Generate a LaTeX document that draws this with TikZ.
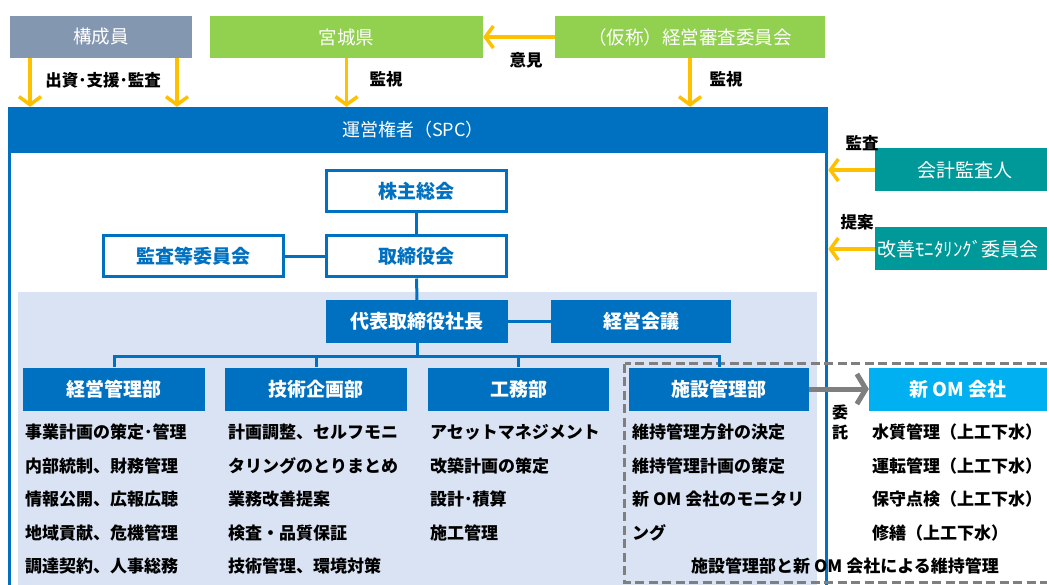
\documentclass[tikz,border=0pt]{standalone}
\usepackage{fontspec}
\setmainfont{Noto Sans CJK JP}
\usetikzlibrary{arrows.meta}
\definecolor{kblue}{HTML}{0070C0}
\definecolor{kgray}{HTML}{8497B0}
\definecolor{kgreen}{HTML}{92D050}
\definecolor{korange}{HTML}{FFC000}
\definecolor{kteal}{HTML}{009999}
\definecolor{klight}{HTML}{DAE3F3}
\definecolor{kcyan}{HTML}{00B0F0}
\definecolor{kdash}{HTML}{7F7F7F}
\begin{document}
\begin{tikzpicture}[x=1pt,y=-1pt,
  topbox/.style={fill=#1, text=white, inner sep=0pt, minimum height=42pt, font=\fontsize{18.5}{18.5}\selectfont},
  wbox/.style={draw=kblue, line width=3pt, fill=white, text=kblue, inner sep=0pt, minimum width=180pt, minimum height=41pt, font=\fontsize{19}{19}\selectfont\bfseries},
  bbox/.style={fill=kblue, text=white, inner sep=0pt, minimum width=182pt, minimum height=43pt, font=\fontsize{19}{19}\selectfont\bfseries},
  tealbox/.style={fill=kteal, text=white, inner sep=0pt, minimum width=180pt, minimum height=43pt, font=\fontsize{19}{19}\selectfont},
  lbl/.style={text=black, inner sep=0pt, font=\fontsize{16.5}{16.5}\selectfont\bfseries},
  lst/.style={text=black, inner sep=0pt, anchor=base west, align=left, font=\fontsize{17}{33.5}\selectfont\bfseries},
  oarrow/.style={draw=korange, line width=3.5pt, -{Straight Barb[length=8pt,width=22pt]}},
  garrow/.style={draw=kdash, line width=5pt, -{Straight Barb[length=9pt,width=30pt]}},
  conn/.style={draw=kblue, line width=3pt}
]
\clip (0,0) rectangle (1047,585);
\fill[white] (0,0) rectangle (1047,585);

% light region and SPC frame
\fill[klight] (18,292) rectangle (817,585);
\draw[kblue, line width=2.5pt] (9.5,130) -- (9.5,600);
\draw[kblue, line width=2.5pt] (826.5,130) -- (826.5,600);
\node[fill=kblue, text=white, inner sep=0pt, minimum width=820pt, minimum height=46pt, font=\fontsize{18}{18}\selectfont] (spc) at (418,130) {};
\node[text=white, inner sep=0pt, font=\fontsize{18}{18}\selectfont] (spct) at (413,130) {運営権者（SPC）};

% dashed region
\draw[kdash, line width=3pt, dash pattern=on 9pt off 4.5pt] (624.5,363.5) rectangle (1070,582.5);

% top boxes
\node[topbox=kgray, minimum width=182pt] (kosei) at (101,37) {構成員};
\node[topbox=kgreen, minimum width=273pt] (miyagi) at (346.5,37) {宮城県};
\node[topbox=kgreen, minimum width=270pt] (shinsa) at (690,37) {（仮称）経営審査委員会};

% right boxes
\node[tealbox] (kaikei) at (965,170) {会計監査人};
\node[tealbox, minimum width=200pt] (kaizen) at (975,249) {};
\node[text=white, inner sep=0pt, anchor=west, font=\fontsize{19}{19}\selectfont] (kaizent) at (877,249) {改善ﾓﾆﾀﾘﾝｸﾞ委員会};

% governance boxes
\node[wbox] (kabu) at (416.5,191.5) {株主総会};
\node[wbox] (tori) at (416.5,256.5) {取締役会};
\node[wbox] (kansa) at (193.5,256.5) {監査等委員会};
\node[bbox] (pres) at (417,321.5) {代表取締役社長};
\node[bbox, minimum width=180pt] (keiei) at (641,321.5) {経営会議};

% departments
\node[bbox] (d1) at (114,389) {経営管理部};
\node[bbox] (d2) at (316,389) {技術企画部};
\node[bbox, minimum width=181pt] (d3) at (518.5,389) {工務部};
\node[bbox, minimum width=180pt] (d4) at (719,389) {施設管理部};
\node[bbox, fill=kcyan, minimum width=178pt] (om) at (958,389) {新 OM 会社};

% lists (base anchor = baseline of last line)
\node[lst] (l1) at (25,572.5) {事業計画の策定･管理\\内部統制、財務管理\\情報公開、広報広聴\\地域貢献、危機管理\\調達契約、人事総務};
\node[lst] (l2) at (228,572.5) {計画調整、セルフモニ\\タリングのとりまとめ\\業務改善提案\\検査・品質保証\\技術管理、環境対策};
\node[lst] (l3) at (430,539) {アセットマネジメント\\改築計画の策定\\設計･積算\\施工管理};
\node[lst] (l4) at (632,539) {維持管理方針の決定\\維持管理計画の策定\\新 OM 会社のモニタリ\\ング};
\node[lst] (l5) at (872,539) {水質管理（上工下水）\\運転管理（上工下水）\\保守点検（上工下水）\\修繕（上工下水）};
\node[lbl, font=\fontsize{17}{17}\selectfont\bfseries] (bottom) at (845,566) {施設管理部と新 OM 会社による維持管理};

% connectors
\draw[conn] (kabu) -- (tori);
\draw[conn] (kansa) -- (tori);
\draw[conn] (tori) -- (pres);
\draw[conn] (pres) -- (keiei);
\coordinate (bus) at (0,356);
\draw[conn] (pres.south) -- (pres.south |- bus);
\draw[conn] (d1.north) -- (d1.north |- bus) -- (d4.north |- bus) -- (d4.north);
\draw[conn] (d2.north) -- (d2.north |- bus);
\draw[conn] (d3.north) -- (d3.north |- bus);

% orange arrows
\draw[oarrow] ([xshift=-71pt]kosei.south) -- ([xshift=-71pt]kosei.south |- spc.north);
\draw[oarrow] ([xshift=76pt]kosei.south) -- ([xshift=76pt]kosei.south |- spc.north);
\draw[oarrow] (miyagi.south) -- (miyagi.south |- spc.north);
\draw[oarrow] (shinsa.south) -- (shinsa.south |- spc.north);
\draw[oarrow] (shinsa.west) -- (miyagi.east);
\draw[oarrow] (kaikei.west) -- (kaikei.west -| spc.east);
\draw[oarrow] (kaizen.west -| kaikei.west) -- (kaizen.west -| spc.east);
\draw[garrow] (d4.east) -- (om.west);

% labels
\node[lbl] (t1) at (103,80) {出資･支援･監査};
\node[lbl] (t2) at (386,79) {監視};
\node[lbl] (t3) at (526,60) {意見};
\node[lbl] (t4) at (726,79) {監視};
\node[lbl] (t5) at (862,143) {監査};
\node[lbl] (t6) at (857,222) {提案};
\node[lbl, align=center, font=\fontsize{16}{20}\selectfont\bfseries] (t7) at (840,422) {委\\託};
\end{tikzpicture}
\end{document}
